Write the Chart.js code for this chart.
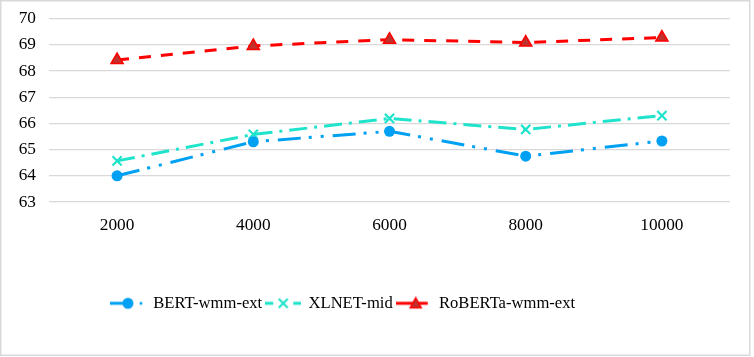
<!DOCTYPE html>
<html>
<head>
<meta charset="utf-8">
<script src="https://cdn.jsdelivr.net/npm/chart.js@4.4.0/dist/chart.umd.min.js"></script>
<style>
  html, body { margin: 0; padding: 0; background: #fff; }
  #wrap { position: relative; width: 754px; height: 357px; }
</style>
</head>
<body>
<div id="wrap"><canvas id="c" width="754" height="357"></canvas></div>
<script>
const categories = ['2000', '4000', '6000', '8000', '10000'];
const seriesNames = ['BERT-wmm-ext', 'XLNET-mid', 'RoBERTa-wmm-ext'];
const bertValues = [64.0, 65.3, 65.7, 64.75, 65.33];
const xlnetValues = [64.57, 65.58, 66.19, 65.77, 66.3];
const robertaValues = [68.42, 68.96, 69.2, 69.09, 69.28];
const yTicks = [63, 64, 65, 66, 67, 68, 69, 70];

const BLUE = '#00a0f2';
const TEAL = '#1fe3cb';
const RED = '#ff0000';
const DARKRED = '#c0302c';
const FONT = '"Liberation Serif", "Times New Roman", serif';

function makeIcon(draw) {
  const cv = document.createElement('canvas');
  cv.width = 36; cv.height = 14;
  const ctx = cv.getContext('2d');
  draw(ctx);
  return cv;
}
const bertIcon = makeIcon(ctx => {
  ctx.strokeStyle = BLUE; ctx.lineWidth = 3;
  ctx.beginPath(); ctx.moveTo(0, 7); ctx.lineTo(18, 7); ctx.stroke();
  ctx.fillStyle = BLUE;
  ctx.beginPath(); ctx.arc(18, 7, 5.5, 0, Math.PI * 2); ctx.fill();
  ctx.beginPath(); ctx.arc(31, 7, 1.5, 0, Math.PI * 2); ctx.fill();
});
const xlnetIcon = makeIcon(ctx => {
  ctx.strokeStyle = TEAL; ctx.lineWidth = 3;
  ctx.beginPath(); ctx.moveTo(0, 7); ctx.lineTo(8, 7); ctx.stroke();
  ctx.beginPath(); ctx.moveTo(28, 7); ctx.lineTo(36, 7); ctx.stroke();
  ctx.lineWidth = 2.2;
  ctx.beginPath();
  ctx.moveTo(13.5, 2.5); ctx.lineTo(22.5, 11.5);
  ctx.moveTo(22.5, 2.5); ctx.lineTo(13.5, 11.5);
  ctx.stroke();
});
const robertaIcon = makeIcon(ctx => {
  ctx.strokeStyle = RED; ctx.lineWidth = 3;
  ctx.beginPath(); ctx.moveTo(0, 7); ctx.lineTo(32, 7); ctx.stroke();
  ctx.fillStyle = DARKRED; ctx.lineWidth = 1.5;
  ctx.beginPath(); ctx.moveTo(20, 1.5); ctx.lineTo(25.5, 11.5); ctx.lineTo(14.5, 11.5); ctx.closePath();
  ctx.fill(); ctx.stroke();
});
const icons = [bertIcon, xlnetIcon, robertaIcon];

const borderPlugin = {
  id: 'outerBorder',
  beforeDraw(chart) {
    const ctx = chart.ctx;
    ctx.save();
    ctx.strokeStyle = '#d9d9d9';
    ctx.lineWidth = 1.5;
    ctx.strokeRect(0.75, 0.75, 749, 354.5);
    ctx.restore();
  }
};
const legendShift = {
  id: 'legendShift',
  afterLayout(chart) {
    const lg = chart.legend;
    if (lg) { lg.left -= 22; lg.right -= 22; }
  }
};

new Chart(document.getElementById('c'), {
  type: 'line',
  data: {
    labels: categories,
    datasets: [
      {
        label: seriesNames[0], data: bertValues,
        borderColor: BLUE, backgroundColor: BLUE, borderWidth: 3,
        borderDash: [23, 8, 3, 9, 3, 9],
        pointStyle: 'circle', pointRadius: 5.5, pointBackgroundColor: BLUE, pointBorderColor: BLUE, pointBorderWidth: 0,
        tension: 0
      },
      {
        label: seriesNames[1], data: xlnetValues,
        borderColor: TEAL, backgroundColor: TEAL, borderWidth: 3,
        borderDash: [18, 7, 3, 7],
        pointStyle: 'crossRot', pointRadius: 6.5, pointBorderColor: TEAL, pointBorderWidth: 2.2,
        tension: 0
      },
      {
        label: seriesNames[2], data: robertaValues,
        borderColor: RED, backgroundColor: DARKRED, borderWidth: 3,
        borderDash: [12, 10],
        pointStyle: 'triangle', pointRadius: 7, pointBackgroundColor: DARKRED, pointBorderColor: RED, pointBorderWidth: 1.5,
        tension: 0
      }
    ]
  },
  options: {
    responsive: false,
    animation: false,
    devicePixelRatio: 1,
    layout: { padding: { left: 0, right: 24, top: 18.7, bottom: 35.4 } },
    plugins: {
      tooltip: { enabled: false },
      legend: {
        position: 'bottom',
        labels: {
          usePointStyle: true,
          pointStyleWidth: 34,
          padding: 4,
          color: '#000',
          font: { family: FONT, size: 16.6 },
          generateLabels(chart) {
            return chart.data.datasets.map((ds, i) => ({
              text: ds.label,
              pointStyle: icons[i],
              fillStyle: ds.borderColor,
              strokeStyle: ds.borderColor,
              lineWidth: 0,
              hidden: false,
              datasetIndex: i
            }));
          }
        }
      }
    },
    scales: {
      x: {
        offset: true,
        grid: { display: false, drawTicks: false },
        border: { display: false },
        ticks: { color: '#000', font: { family: FONT, size: 17.3 }, padding: 13, maxRotation: 0 },
        afterFit(scale) { scale.height = 89; }
      },
      y: {
        min: 63, max: 70,
        afterBuildTicks(scale) { scale.ticks = yTicks.map(v => ({ value: v })); },
        grid: { color: '#d9d9d9', lineWidth: 1.3, drawTicks: false },
        border: { display: false },
        ticks: { color: '#000', font: { family: FONT, size: 17.3 }, padding: 13 },
        afterFit(scale) { scale.width = 49; scale.paddingTop = 8; scale.paddingBottom = 8; }
      }
    }
  },
  plugins: [borderPlugin, legendShift]
});
</script>
</body>
</html>
